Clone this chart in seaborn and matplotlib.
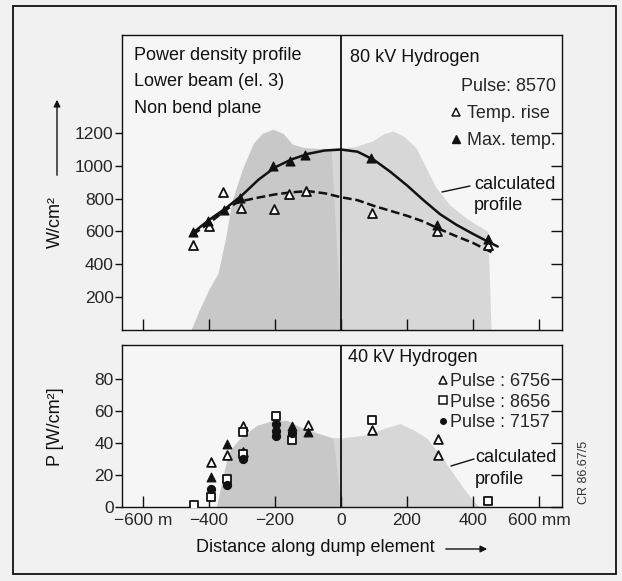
import matplotlib
matplotlib.use("Agg")
import matplotlib.pyplot as plt
from matplotlib.lines import Line2D
from matplotlib.patches import Rectangle, FancyArrowPatch
import numpy as np
import seaborn as sns

# ---------------- data ----------------
# 80 kV hydrogen, pulse 8570 (W/cm^2)
temp_rise_x = [-450, -400, -357, -302, -204, -157, -106, 95, 292, 445]
temp_rise_y = [520, 635, 840, 740, 738, 825, 848, 709, 604, 515]
max_temp_x = [-450, -403, -355, -305, -205, -156, -110, 90, 292, 445]
max_temp_y = [598, 662, 730, 805, 996, 1030, 1067, 1048, 639, 552]

# fitted curves through the two series
fit_max_x = [-450, -400, -350, -300, -250, -200, -150, -100, -50, 0, 50, 100,
             150, 200, 250, 300, 350, 400, 450, 475]
fit_max_y = [590, 670, 740, 820, 915, 990, 1038, 1072, 1092, 1098, 1085, 1035,
             962, 880, 790, 705, 640, 585, 533, 508]
fit_rise_x = [-450, -400, -350, -320, -300, -250, -200, -150, -100, -50, 0, 50,
              100, 150, 200, 250, 300, 350, 400, 460]
fit_rise_y = [580, 650, 730, 770, 785, 806, 825, 838, 845, 832, 808, 790,
              755, 725, 695, 660, 613, 570, 530, 470]

# calculated power density profile, 80 kV
prof80_x = [-455, -430, -400, -373, -350, -330, -297, -266, -240, -206, -175,
            -147, -110, -70, -30, 0, 40, 95, 130, 157, 190, 227, 257, 287,
            330, 380, 420, 445, 455]
prof80_y = [0, 120, 250, 345, 560, 790, 990, 1135, 1195, 1222, 1195, 1130,
            1110, 1105, 1105, 1108, 1115, 1150, 1195, 1210, 1180, 1110, 990,
            870, 760, 680, 630, 600, 0]

# 40 kV hydrogen, several pulses (W/cm^2)
p6756_x = [-395, -346, -298, -298, -99, 95, 294, 294]
p6756_y = [28, 32.5, 50.5, 34.5, 51, 48, 42.5, 32.5]
filled_x = [-395, -346, -149, -99]
filled_y = [19, 39.5, 50.5, 47]
p8656_x = [-445, -395, -346, -298, -298, -198, -149, 95, 445]
p8656_y = [1, 6.5, 17.5, 46.5, 33, 57, 41.5, 54, 4]
p7157_x = [-395, -346, -298, -198, -198, -198, -149]
p7157_y = [11, 13.5, 30, 51.5, 47.5, 44.5, 46]

# calculated power density profile, 40 kV
prof40_x = [-378, -357, -342, -306, -255, -205, -165, -125, -85, -24, 0, 40,
            78, 130, 179, 220, 260, 320, 370, 400, 420]
prof40_y = [0, 20, 34, 43, 51, 54, 54, 50, 47, 43, 43, 44, 45, 49, 52, 48,
            43, 27, 12, 4, 0]

x_ticks = [-600, -400, -200, 0, 200, 400, 600]
x_tick_labels = ["\u2212600 m", "\u2212400", "\u2212200", "0", "200", "400", "600 mm"]
top_y_ticks = [200, 400, 600, 800, 1000, 1200]
bot_y_ticks = [0, 20, 40, 60, 80]

# ---------------- style ----------------
sns.set_style("ticks")
plt.rcParams["font.family"] = ["Liberation Sans", "DejaVu Sans"]
plt.rcParams["axes.linewidth"] = 1.0

W, H = 622, 581
fig = plt.figure(figsize=(W / 100, H / 100), dpi=100, facecolor="#f1f1f1")


def fpos(x, y):
    return x / W, 1 - y / H


L, R = 122, 562
ax_top = fig.add_axes([L / W, 1 - 330 / H, (R - L) / W, (330 - 35) / H])
ax_bot = fig.add_axes([L / W, 1 - 507 / H, (R - L) / W, (507 - 345) / H])

XLIM = (-664, 670)
dark_gray, light_gray = "#c8c8c8", "#d7d7d7"
ink = "#111111"


def shade(ax, xs, ys):
    xs = np.asarray(xs, float)
    ys = np.asarray(ys, float)
    ax.fill_between(xs, ys, where=xs <= 0, color=dark_gray, lw=0,
                    interpolate=True, zorder=0.5)
    ax.fill_between(xs, ys, where=xs >= 0, color=light_gray, lw=0,
                    interpolate=True, zorder=0.5)


for ax in (ax_top, ax_bot):
    ax.set_facecolor("#f6f6f6")
    ax.set_xlim(*XLIM)
    ax.axvline(0, color=ink, lw=1.3, zorder=3)
    for s in ax.spines.values():
        s.set_color(ink)
        s.set_linewidth(1.0)
    ax.set_xticks(x_ticks)
    ax.tick_params(axis="x", direction="in", length=8, width=1, color=ink,
                   labelsize=12.5, pad=4)
    ax.tick_params(axis="y", direction="out", length=5, width=1, color=ink,
                   labelsize=12.5, pad=1, right=True)
    ax.set_xlabel("")
    ax.set_ylabel("")

# ---- top panel ----
shade(ax_top, prof80_x, prof80_y)
sns.lineplot(x=fit_max_x, y=fit_max_y, ax=ax_top, color=ink, lw=1.8,
             sort=False, zorder=4)
sns.lineplot(x=fit_rise_x, y=fit_rise_y, ax=ax_top, color=ink, lw=1.8,
             sort=False, zorder=4, linestyle=(0, (3.5, 1.5)))
sns.scatterplot(x=temp_rise_x, y=temp_rise_y, ax=ax_top, marker="^", s=42,
                facecolor="white", edgecolor=ink, linewidth=1.3, zorder=5)
sns.scatterplot(x=max_temp_x, y=max_temp_y, ax=ax_top, marker="^", s=42,
                color=ink, edgecolor=ink, linewidth=0.8, zorder=6)
ax_top.set_ylim(0, 1795)
ax_top.set_yticks(top_y_ticks)
ax_top.tick_params(axis="x", labelbottom=False)

# ---- bottom panel ----
shade(ax_bot, prof40_x, prof40_y)
sns.scatterplot(x=p6756_x, y=p6756_y, ax=ax_bot, marker="^", s=40,
                facecolor="white", edgecolor=ink, linewidth=1.3, zorder=5)
sns.scatterplot(x=filled_x, y=filled_y, ax=ax_bot, marker="^", s=40,
                color=ink, edgecolor=ink, linewidth=0.8, zorder=6)
sns.scatterplot(x=p8656_x, y=p8656_y, ax=ax_bot, marker="s", s=38,
                facecolor="white", edgecolor=ink, linewidth=1.3, zorder=5)
sns.scatterplot(x=p7157_x, y=p7157_y, ax=ax_bot, marker="o", s=34,
                color=ink, edgecolor=ink, linewidth=0.8, zorder=6)
ax_bot.set_ylim(0, 101)
ax_bot.set_yticks(bot_y_ticks)
ax_bot.set_xticklabels(x_tick_labels)

# right-hand ticks point inwards
for ax in (ax_top, ax_bot):
    for t in ax.yaxis.get_major_ticks():
        t.tick2line.set_marker(matplotlib.lines.TICKLEFT)
        t.tick2line.set_markersize(8)

# ---- legends ----
open_tri = Line2D([], [], ls="", marker="^", ms=6, mfc="white", mec=ink, mew=1.1)
full_tri = Line2D([], [], ls="", marker="^", ms=6, mfc=ink, mec=ink)
open_sq = Line2D([], [], ls="", marker="s", ms=5.5, mfc="white", mec=ink, mew=1.1)
dot = Line2D([], [], ls="", marker="o", ms=4, mfc=ink, mec=ink)

ax_top.legend([open_tri, full_tri], ["Temp. rise", "Max. temp."],
              title="Pulse: 8570", alignment="right", frameon=False,
              loc="upper right", bbox_to_anchor=fpos(556, 78),
              bbox_transform=fig.transFigure, fontsize=13,
              title_fontsize=13, handlelength=0.6, handletextpad=0.35,
              labelspacing=0.55, borderpad=0, borderaxespad=0)

ax_bot.legend([open_tri, open_sq, dot],
              ["Pulse : 6756", "Pulse : 8656", "Pulse : 7157"],
              frameon=False, loc="upper right",
              bbox_to_anchor=fpos(550, 373),
              bbox_transform=fig.transFigure, fontsize=13,
              handlelength=0.5, handletextpad=0.15,
              labelspacing=0.2, borderpad=0, borderaxespad=0)

# ---- annotations ----
txt = dict(fontsize=13, color=ink, va="center")
fig.text(*fpos(134, 56), "Power density profile", ha="left", **txt)
fig.text(*fpos(134, 82), "Lower beam (el. 3)", ha="left", **txt)
fig.text(*fpos(134, 108), "Non bend plane", ha="left", **txt)
fig.text(*fpos(350, 57), "80 kV Hydrogen", ha="left", **txt)
fig.text(*fpos(474, 184), "calculated", ha="left", **txt)
fig.text(*fpos(474, 205), "profile", ha="left", **txt)
fig.add_artist(Line2D([442 / W, 470 / W], [1 - 192 / H, 1 - 186 / H],
                      color=ink, lw=1))

fig.text(*fpos(348, 357), "40 kV Hydrogen", ha="left", **txt)
fig.text(*fpos(475, 458), "calculated", ha="left", **txt)
fig.text(*fpos(475, 480), "profile", ha="left", **txt)
fig.add_artist(Line2D([451 / W, 474 / W], [1 - 466 / H, 1 - 459 / H],
                      color=ink, lw=1))

fig.text(*fpos(584, 472), "CR 86.67/5", rotation=90, ha="center",
         fontsize=9, color="#333333", va="center")

# axis titles with arrows
fig.text(*fpos(315, 548), "Distance along dump element", ha="center", **txt)
fig.add_artist(FancyArrowPatch(
    fpos(443, 549), fpos(490, 549), transform=fig.transFigure,
    arrowstyle="-|>", mutation_scale=10, color=ink, lw=1))
fig.text(*fpos(55, 222), "W/cm\u00b2", rotation=90, ha="center", **txt)
fig.add_artist(FancyArrowPatch(
    fpos(57, 178), fpos(57, 97), transform=fig.transFigure,
    arrowstyle="-|>", mutation_scale=10, color=ink, lw=1))
fig.text(*fpos(55, 427), "P [W/cm\u00b2]", rotation=90, ha="center", **txt)

# outer frame
fig.add_artist(Rectangle((13 / W, 1 - 574 / H), (616 - 13) / W, (574 - 6) / H,
                         transform=fig.transFigure, fill=False,
                         edgecolor=ink, lw=1.3))

fig.savefig("out.png", dpi=100, facecolor=fig.get_facecolor())
